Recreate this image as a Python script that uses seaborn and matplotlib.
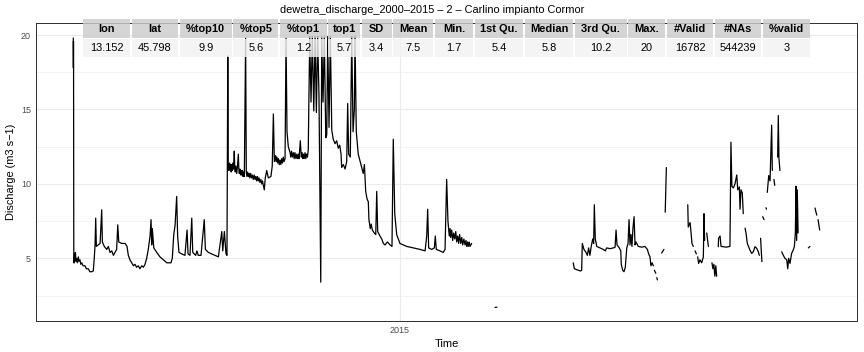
import numpy as np
import pandas as pd
import matplotlib
matplotlib.use("Agg")
import matplotlib.pyplot as plt
import matplotlib.dates as mdates
from matplotlib.patches import Rectangle
import seaborn as sns

# ---------------- data (day offset from start, discharge m3/s) ----------------
start_time = "2014-06-13 16:48"

seg_main = [
    (0.0, 19.8), (0.05, 17.8), (0.1, 19.6), (0.15, 18.0), (0.3, 4.7), (0.4, 5.0), (0.6, 4.7),
    (0.8, 5.3), (1.0, 4.9), (1.3, 5.4), (1.6, 4.8), (2.1, 5.0), (2.5, 4.7), (3.1, 5.1),
    (3.5, 4.8), (4.1, 4.9), (4.6, 4.6), (5.2, 4.7), (6.0, 4.5), (7.2, 4.5), (8.0, 4.3),
    (9.2, 4.3), (10.2, 4.1), (11.3, 4.1), (12.3, 4.15), (12.9, 5.0), (13.4, 5.9), (13.8, 7.7),
    (14.2, 5.8), (15.4, 5.9), (16.5, 6.0),
    (17.5, 8.26), (17.9, 6.1), (19.1, 5.8), (20.6, 5.6), (21.6, 5.8), (22.6, 5.4), (23.7, 5.5),
    (24.7, 5.2), (25.7, 5.4), (26.7, 5.6), (27.4, 7.25), (28.0, 6.1), (29.8, 6.0), (31.9, 6.0),
    (33.1, 5.8), (33.9, 5.2), (34.9, 4.9), (36.0, 4.7), (37.0, 4.5), (38.0, 4.6), (39.0, 4.4),
    (40.1, 4.5), (41.0, 4.3), (42.2, 4.5), (43.2, 4.4),
    (44.2, 4.6), (45.2, 5.0), (46.2, 5.6), (47.3, 6.5), (47.9, 7.6), (48.3, 5.9), (48.7, 7.0),
    (49.6, 5.7), (51.4, 5.4), (53.4, 5.1), (55.5, 4.9), (57.6, 4.7), (60.2, 4.7), (61.0, 5.0),
    (61.9, 6.6), (62.7, 7.2), (63.7, 9.16), (64.3, 6.5), (65.1, 5.4), (66.8, 5.3), (68.8, 5.2),
    (70.1, 6.9), (70.7, 5.3), (71.9, 5.2), (73.0, 7.7), (73.6, 5.4), (75.4, 5.2), (76.2, 5.5),
    (77.0, 5.2), (78.7, 5.2), (80.7, 7.6), (81.4, 5.6), (83.2, 5.4), (85.3, 5.3), (87.3, 5.2),
    (89.4, 5.1), (90.4, 5.9), (91.5, 6.8), (92.1, 5.5), (93.1, 6.8), (94.1, 5.3), (94.7, 5.2),
    (95.2, 18.6), (95.5, 11.2), (95.9, 10.9), (96.3, 11.4), (96.6, 11.0), (97.0, 11.3),
    (97.3, 10.8), (97.6, 11.3), (98.0, 10.9), (98.4, 11.4), (98.8, 11.0), (99.2, 12.2),
    (99.5, 11.1), (99.8, 10.8), (100.2, 11.2), (100.7, 10.7), (101.1, 11.1), (101.7, 12.0),
    (102.0, 11.0), (102.3, 10.7), (102.7, 11.0), (103.1, 10.6), (103.5, 10.9), (103.8, 10.6),
    (104.2, 10.9), (104.6, 10.5), (105.0, 10.8), (105.4, 10.5), (106.2, 19.8), (106.6, 10.8),
    (107.0, 10.5), (107.4, 10.8), (107.9, 10.5), (108.3, 10.7), (108.8, 10.4), (109.3, 10.7),
    (109.9, 10.4), (110.4, 10.6), (110.9, 10.3), (111.5, 10.6), (112.0, 10.3), (112.5, 10.5),
    (113.0, 10.2), (113.5, 10.5), (114.0, 10.2), (114.5, 10.4), (115.0, 10.1), (115.6, 10.3),
    (116.1, 10.0), (116.6, 10.2), (117.1, 9.9), (117.7, 9.6),
    (118.3, 10.4), (119.2, 10.9), (120.2, 10.4), (121.8, 10.5),
    (122.6, 11.2), (123.3, 14.7), (123.9, 11.5), (124.7, 11.9), (125.1, 11.5), (125.5, 11.8),
    (126.0, 11.4), (126.4, 11.7), (126.9, 11.3), (127.4, 11.6), (127.9, 11.3), (128.4, 11.7),
    (128.9, 11.4), (129.4, 11.8), (129.9, 11.5), (130.5, 11.7), (131.1, 19.8), (131.7, 13.5),
    (132.5, 12.5), (133.6, 12.1), (134.0, 11.8), (134.5, 12.2), (135.0, 11.8), (135.6, 12.1),
    (136.1, 11.7), (136.6, 12.1), (137.2, 11.7), (137.7, 12.0), (138.2, 11.7), (138.7, 12.0),
    (139.1, 11.7), (139.9, 12.9), (140.5, 11.8), (141.0, 12.1), (141.4, 11.7), (141.8, 12.0),
    (142.3, 11.7), (142.8, 12.1), (143.3, 11.7), (143.8, 12.0), (144.3, 11.8),
    (144.8, 12.3), (145.7, 19.9), (146.5, 15.5), (147.3, 19.9), (148.2, 14.9),
    (149.0, 19.9), (149.8, 14.8), (150.6, 19.9), (151.4, 16.0), (152.5, 3.4), (153.1, 19.9),
    (153.9, 15.5), (154.7, 19.9), (155.6, 13.1), (156.2, 13.3), (156.8, 19.9), (157.6, 13.8),
    (158.4, 19.9), (159.3, 13.6), (160.2, 13.0), (161.3, 12.7), (162.3, 12.9), (163.3, 12.4),
    (164.2, 12.6), (165.0, 12.0),
    (165.4, 11.1), (166.4, 11.3), (167.5, 11.0), (168.5, 11.5), (169.1, 15.4), (169.7, 12.0),
    (170.7, 11.8), (171.6, 19.9), (172.4, 13.5), (173.2, 15.0), (173.6, 19.9), (174.4, 13.5),
    (175.6, 12.0), (177.3, 11.3), (178.7, 10.7), (179.4, 11.3), (180.2, 9.5), (181.0, 9.0),
    (181.8, 8.8), (182.2, 7.6), (183.0, 7.0), (183.6, 7.3), (184.3, 6.9), (185.5, 6.7),
    (186.4, 6.6), (187.0, 9.5), (187.6, 6.8), (189.0, 6.5), (190.1, 6.3), (191.1, 6.0),
    (192.1, 5.9), (193.6, 6.1), (195.2, 5.9), (196.4, 5.8), (197.2, 13.0), (198.1, 8.0),
    (199.3, 6.6), (201.3, 6.0), (205.5, 5.8), (209.5, 5.7), (213.7, 5.6), (216.8, 5.5),
    (217.8, 6.5), (218.4, 8.3), (219.0, 5.7), (220.9, 5.6), (222.5, 5.7), (223.1, 6.5),
    (223.7, 5.6), (226.0, 5.5), (228.0, 5.4), (229.1, 5.6), (230.1, 10.3), (230.9, 7.5),
    (231.7, 6.5), (232.2, 7.0), (232.6, 6.4), (233.2, 6.9), (233.8, 6.2), (234.4, 6.7),
    (235.1, 6.3), (235.7, 6.8), (236.3, 6.1), (236.9, 6.5), (237.5, 6.0), (238.1, 6.6),
    (238.8, 6.0), (239.4, 6.4), (240.0, 5.9), (240.7, 6.3), (241.4, 5.9), (242.0, 6.2),
    (242.5, 5.8), (243.0, 6.1), (243.4, 5.8), (244.0, 6.1), (244.5, 5.8), (245.5, 6.0),
]
seg_min = [(259.9, 1.70), (261.1, 1.72)]
seg_c1 = [
    (308.1, 4.7), (308.8, 4.3), (311.2, 4.2), (312.7, 4.15), (313.3, 4.2), (313.7, 6.0),
    (314.7, 5.6), (316.0, 5.4), (316.8, 5.2), (317.6, 5.7), (318.4, 5.2), (319.2, 5.8),
    (320.1, 6.3), (320.7, 6.0), (321.1, 8.6), (321.7, 6.3), (322.6, 5.8), (324.6, 5.7),
    (326.6, 5.6), (327.9, 5.5), (328.7, 5.7), (330.8, 5.65), (332.8, 5.7), (333.9, 5.75),
    (334.5, 6.9), (335.1, 5.9), (336.5, 5.7), (337.4, 5.5), (337.7, 4.6), (338.6, 4.2),
    (339.4, 4.1), (340.2, 4.4), (341.1, 5.7), (341.9, 6.0), (342.5, 7.6), (343.1, 5.9),
    (343.7, 6.6), (344.3, 5.8), (344.9, 7.0), (345.6, 7.8), (346.2, 5.9), (346.8, 6.1),
    (348.2, 5.8), (350.3, 5.75), (352.3, 5.8), (353.8, 5.6), (354.6, 5.3), (355.4, 5.1),
    (356.0, 4.5), (356.7, 4.7), (357.5, 4.5),
]
seg_c2 = [(358.1, 4.2), (359.0, 4.0)]
seg_c3 = [(359.6, 3.7), (360.0, 3.55)]
seg_d = [(362.6, 5.35), (364.0, 5.6)]
seg_e = [(364.8, 8.1), (365.5, 11.1)]
seg_f1 = [(378.7, 8.6), (379.0, 7.1), (380.1, 7.4), (380.5, 7.0), (381.3, 6.0), (382.1, 5.8)]
seg_f2 = [(383.2, 5.5), (384.0, 5.3)]
seg_f3 = [(384.8, 5.1), (385.4, 4.66), (386.2, 4.9), (387.3, 4.7), (388.3, 5.1), (388.7, 8.0), (389.1, 6.2)]
seg_f4 = [(390.4, 6.7), (391.4, 5.8)]
seg_f5 = [(393.6, 4.7), (394.2, 4.3), (394.8, 4.6), (395.4, 3.8), (396.0, 4.5), (396.5, 3.8)]
seg_g1 = [
    (397.5, 5.78), (397.7, 6.35), (398.6, 6.5), (399.2, 5.8), (400.6, 5.78), (402.3, 5.75),
    (404.7, 5.8), (405.3, 12.8), (405.9, 9.84), (406.8, 9.73), (407.8, 10.0), (408.9, 10.6),
    (409.5, 9.6), (410.5, 9.8), (410.9, 8.3), (411.5, 9.6), (412.3, 9.4), (412.9, 8.0),
]
seg_g2 = [
    (414.0, 7.03), (414.6, 6.69), (415.4, 6.0), (416.2, 5.78), (417.0, 5.56), (418.1, 5.33),
    (419.1, 5.44), (420.1, 5.78), (421.2, 5.67), (422.2, 5.44), (422.8, 5.2),
]
seg_g3 = [(423.6, 6.35), (424.0, 5.5), (424.4, 4.78)]
seg_g4 = [(424.9, 7.8), (425.7, 7.6)]
seg_g5 = [(426.9, 8.4), (427.2, 8.3)]
seg_g6 = [(427.7, 9.43), (428.6, 10.56), (429.4, 10.2), (430.4, 13.95), (430.8, 10.9)]
seg_g7 = [(431.8, 10.3), (432.3, 9.9)]
seg_g8 = [(434.1, 11.8), (434.5, 14.6), (434.9, 11.7), (435.5, 10.9)]
seg_h1 = [
    (436.6, 5.44), (437.6, 5.2), (438.6, 5.0), (439.7, 4.9), (440.3, 4.3), (440.9, 5.0),
    (441.7, 4.66), (442.7, 5.33), (443.7, 5.56), (444.4, 5.8), (445.0, 6.7), (445.4, 9.84),
    (445.8, 6.2), (446.2, 9.6), (446.7, 6.7),
]
seg_h2 = [(453.0, 5.7), (454.0, 5.8)]
seg_h3 = [(457.1, 8.38), (458.2, 7.9)]
seg_h4 = [(459.0, 7.6), (460.0, 6.9)]

segments = [seg_main, seg_min, seg_c1, seg_c2, seg_c3, seg_d, seg_e, seg_f1, seg_f2, seg_f3,
            seg_f4, seg_f5, seg_g1, seg_g2, seg_g3, seg_g4, seg_g5, seg_g6, seg_g7, seg_g8,
            seg_h1, seg_h2, seg_h3, seg_h4]

table_headers = ["lon", "lat", "%top10", "%top5", "%top1", "top1", "SD", "Mean", "Min.",
                 "1st Qu.", "Median", "3rd Qu.", "Max.", "#Valid", "#NAs", "%valid"]
table_values = ["13.152", "45.798", "9.9", "5.6", "1.2", "5.7", "3.4", "7.5", "1.7",
                "5.4", "5.8", "10.2", "20", "16782", "544239", "3"]

title = "dewetra_discharge_2000\u20132015 \u2013 2 \u2013 Carlino impianto Cormor"
y_label = "Discharge (m3 s\u22121)"
x_label = "Time"

# ---------------- build frame ----------------
rows = []
t0 = pd.Timestamp(start_time)
for i, seg in enumerate(segments):
    for d, v in seg:
        rows.append({"time": t0 + pd.Timedelta(days=d), "discharge": v, "seg": i})
df = pd.DataFrame(rows)

# ---------------- figure ----------------
sns.set_theme(style="white")
plt.rcParams["font.family"] = ["Liberation Sans", "DejaVu Sans"]

W, H = 864, 352
fig = plt.figure(figsize=(W / 72, H / 72), dpi=72)
fig.patch.set_facecolor("white")
L, R, T, B = 36, 857, 23, 321
ax = fig.add_axes([L / W, 1 - B / H, (R - L) / W, (B - T) / H])

sns.lineplot(data=df, x="time", y="discharge", units="seg", estimator=None,
             color="black", linewidth=1.25, ax=ax, legend=False)

# limits with ggplot-like 5% expansion
tmin, tmax = mdates.date2num(df["time"].min()), mdates.date2num(df["time"].max())
span = tmax - tmin
ax.set_xlim(tmin - 0.05 * span, tmax + 0.05 * span)
vmin, vmax = df["discharge"].min(), df["discharge"].max()
vs = vmax - vmin
ax.set_ylim(vmin - 0.05 * vs, vmax + 0.05 * vs)

ax.set_yticks([5, 10, 15, 20])
ax.set_yticks([2.5, 7.5, 12.5, 17.5], minor=True)
ax.set_xticks([mdates.date2num(pd.Timestamp("2015-01-01"))])
ax.set_xticklabels(["2015"])

ax.grid(True, which="major", color="#EBEBEB", linewidth=1.1)
ax.grid(True, which="minor", axis="y", color="#EBEBEB", linewidth=0.6)
ax.set_axisbelow(True)
ax.tick_params(axis="both", which="major", length=3, width=0.8, color="#333333",
               labelsize=9, labelcolor="#4D4D4D", pad=2)
ax.tick_params(axis="both", which="minor", length=0)
for s in ax.spines.values():
    s.set_color("#333333")
    s.set_linewidth(1.0)

ax.set_xlabel(x_label, fontsize=11, color="black", labelpad=4)
ax.set_ylabel(y_label, fontsize=11, color="black", labelpad=5)
fig.text(0.5, 1 - 10 / H, title, ha="center", va="center", fontsize=11, color="black")

# ---------------- summary table (overlay) ----------------
col_steps = [48.4, 48.3, 53.3, 46.7, 48.3, 33.4, 31.6, 41.7, 40.0, 50.0, 50.0, 53.3,
             38.4, 48.3, 48.3, 48.4]
tab_left = 83.3
gap = 1.8
head_top, head_bot = 19.5, 37.5
body_top, body_bot = 39.2, 57.3


def px_rect(x0, y0, x1, y1, color):
    return Rectangle((x0 / W, 1 - y1 / H), (x1 - x0) / W, (y1 - y0) / H,
                     transform=fig.transFigure, facecolor=color, edgecolor="none",
                     alpha=0.82, zorder=5)


x = tab_left
for hdr, val, step in zip(table_headers, table_values, col_steps):
    x1 = x + step - gap
    fig.add_artist(px_rect(x, head_top, x1, head_bot, "#CCCCCC"))
    fig.add_artist(px_rect(x, body_top, x1, body_bot, "#F2F2F2"))
    cx = (x + x1) / 2
    fig.text(cx / W, 1 - (head_top + head_bot) / 2 / H, hdr, ha="center", va="center",
             fontsize=11, fontweight="bold", color="black", zorder=6)
    fig.text(cx / W, 1 - (body_top + body_bot) / 2 / H, val, ha="center", va="center",
             fontsize=11, color="black", zorder=6)
    x += step

fig.savefig("out.png", dpi=72, facecolor="white")
